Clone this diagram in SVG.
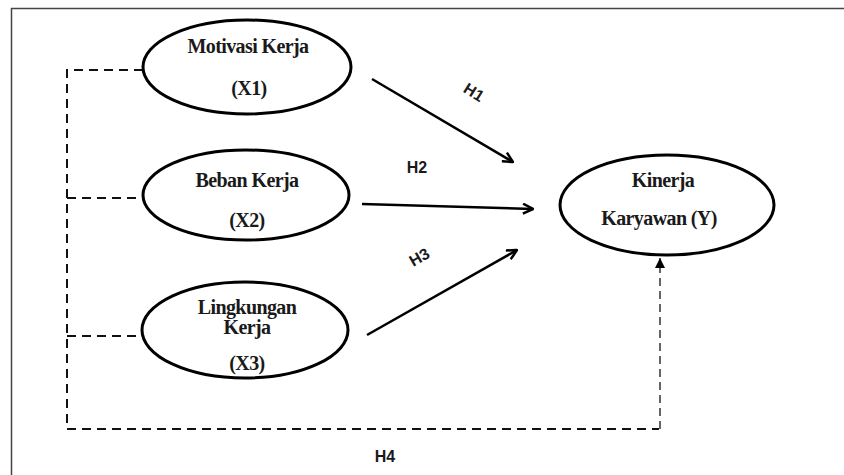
<svg xmlns="http://www.w3.org/2000/svg" width="844" height="475" viewBox="0 0 844 475">
<style>
.node{fill:#fff;stroke:#000;stroke-width:3}
.lbl{font-family:"Liberation Serif","Times New Roman",serif;font-weight:bold;font-size:20px;letter-spacing:-0.6px;fill:#1a1a1a;text-anchor:middle}
.h{font-family:"Liberation Sans",Arial,sans-serif;font-weight:bold;font-size:16px;fill:#1a1a1a;text-anchor:middle}
.solid{stroke:#000;stroke-width:2.5;fill:none}
.dash{stroke:#111;stroke-width:2;fill:none;stroke-dasharray:9 6}
.dash2{stroke:#333;stroke-width:1.5;fill:none;stroke-dasharray:8 5}
</style>
<defs>
<marker id="open" viewBox="0 0 12 12" refX="11" refY="6" markerWidth="12" markerHeight="12" markerUnits="userSpaceOnUse" orient="auto">
<path d="M1,1 L11,6 L1,11" fill="none" stroke="#000" stroke-width="2.5"/>
</marker>
<marker id="fill" viewBox="0 0 10 10" refX="10" refY="5" markerWidth="10" markerHeight="10" markerUnits="userSpaceOnUse" orient="auto">
<path d="M0,0 L10,5 L0,10 Z" fill="#000"/>
</marker>
</defs>
<rect width="844" height="475" fill="#fff"/>
<g id="frame">
<line x1="11" y1="8.5" x2="844" y2="8.5" stroke="#444" stroke-width="1.5"/>
<line x1="11.5" y1="8" x2="11.5" y2="475" stroke="#444" stroke-width="1.5"/>
</g>
<g id="connectors">
<line class="solid" x1="372" y1="79" x2="513" y2="162" marker-end="url(#open)"/>
<line class="solid" x1="362" y1="204" x2="533" y2="209" marker-end="url(#open)"/>
<line class="solid" x1="367" y1="335" x2="517" y2="250" marker-end="url(#open)"/>
<path class="dash" d="M143,70 H67 V429 H659"/>
<line class="dash" x1="67" y1="198" x2="143" y2="198"/>
<line class="dash" x1="67" y1="336" x2="142" y2="336"/>
<line class="dash2" x1="660" y1="429" x2="660" y2="258" marker-end="url(#fill)"/>
<text class="h" transform="translate(471,97) rotate(32)">H1</text>
<text class="h" x="417" y="173">H2</text>
<text class="h" transform="translate(422,262) rotate(-30)">H3</text>
<text class="h" x="385" y="462">H4</text>
</g>
<g id="x1">
<ellipse class="node" cx="247" cy="67" rx="104" ry="47"/>
<text class="lbl" x="248" y="53">Motivasi Kerja</text>
<text class="lbl" x="249" y="95">(X1)</text>
</g>
<g id="x2">
<ellipse class="node" cx="246" cy="195" rx="103" ry="45"/>
<text class="lbl" x="247" y="187">Beban Kerja</text>
<text class="lbl" x="247" y="227">(X2)</text>
</g>
<g id="x3">
<ellipse class="node" cx="245" cy="330" rx="103" ry="48"/>
<text class="lbl" x="247" y="314">Lingkungan</text>
<text class="lbl" x="247" y="334">Kerja</text>
<text class="lbl" x="247" y="370">(X3)</text>
</g>
<g id="y">
<ellipse class="node" cx="667" cy="205" rx="107" ry="50"/>
<text class="lbl" x="663" y="187">Kinerja</text>
<text class="lbl" x="659" y="225">Karyawan (Y)</text>
</g>
</svg>
